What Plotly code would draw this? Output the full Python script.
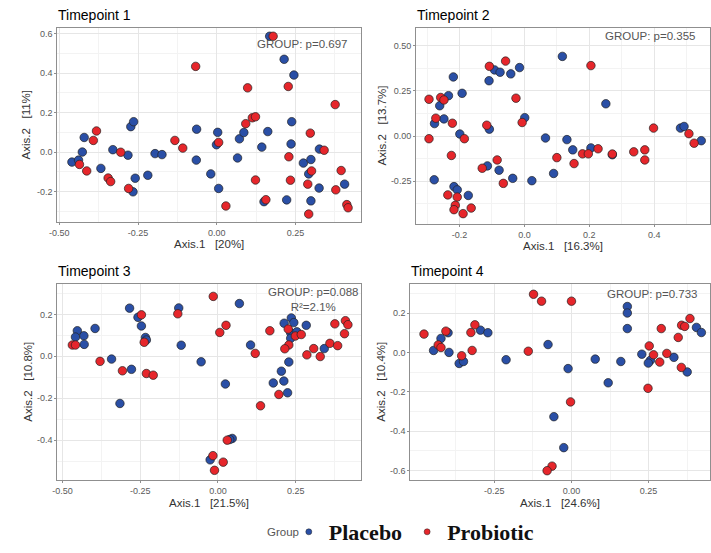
import plotly.graph_objects as go

# ---------------- data ----------------
groups = ["Placebo", "Probiotic"]

# Timepoint 1
t1_placebo_x = [-0.460, -0.439, -0.421, -0.427, -0.368, -0.330, -0.282, -0.273, -0.264, -0.266, -0.259, -0.219, -0.196, -0.174,
                -0.064, -0.065, -0.019, 0.003, -0.001, 0.006, 0.066, 0.072, 0.086, 0.150, 0.143, 0.162, 0.168, 0.214, 0.245,
                0.238, 0.236, 0.222, 0.275, 0.292, 0.299, 0.299, 0.326, 0.325, 0.406]
t1_placebo_y = [-0.051, -0.041, 0.074, 0.000, -0.083, 0.012, -0.016, 0.129, 0.154, -0.202, -0.133, -0.118, -0.008, -0.013,
                0.116, -0.041, -0.111, 0.100, 0.037, -0.185, -0.030, 0.067, 0.099, -0.252, 0.025, 0.104, 0.588, 0.471, 0.391,
                0.154, 0.041, -0.243, -0.056, -0.111, -0.038, -0.248, 0.015, -0.183, -0.163]
t1_probiotic_x = [-0.436, -0.413, -0.392, -0.382, -0.345, -0.337, -0.305, -0.280, -0.133, -0.108, -0.067, 0.006, 0.029, 0.092,
                  0.098, 0.113, 0.123, 0.123, 0.156, 0.179, 0.227, 0.229, 0.234, 0.297, 0.301, 0.289, 0.292, 0.341, 0.376,
                  0.378, 0.395, 0.413, 0.417]
t1_probiotic_y = [-0.063, -0.096, 0.059, 0.107, -0.132, -0.150, -0.001, -0.185, 0.059, 0.020, 0.435, 0.049, -0.274, 0.144,
                  0.326, 0.174, 0.179, -0.142, -0.242, 0.588, 0.333, -0.024, -0.143, 0.096, -0.096, -0.163, -0.315, 0.009,
                  0.241, -0.192, -0.094, -0.267, -0.283]

# Timepoint 2
t2_placebo_x = [-0.234, -0.261, -0.277, -0.248, -0.278, -0.219, -0.199, -0.192, -0.217, -0.207, -0.173, -0.092, -0.075, -0.042,
                -0.015, -0.109, -0.108, 0.001, -0.114, -0.078, -0.036, 0.023, 0.065, 0.117, 0.090, 0.131, 0.149, 0.205, 0.251,
                0.271, 0.481, 0.492, 0.545]
t2_placebo_y = [0.224, 0.168, 0.069, 0.095, -0.243, 0.328, 0.011, 0.237, -0.281, -0.299, -0.330, 0.367, 0.354, 0.345,
                0.380, 0.307, 0.038, 0.102, -0.166, -0.190, -0.235, -0.248, -0.011, 0.442, -0.208, -0.020, -0.077, -0.066, 0.179,
                -0.104, 0.044, 0.053, -0.026]
t2_probiotic_x = [-0.294, -0.258, -0.248, -0.273, -0.294, -0.222, -0.185, -0.225, -0.236, -0.207, -0.213, -0.217, -0.189,
                  -0.164, -0.108, -0.058, -0.026, -0.116, -0.007, -0.084, -0.130, -0.065, 0.100, 0.153, 0.179, 0.197, 0.227,
                  0.205, 0.271, 0.337, 0.371, 0.371, 0.398, 0.507, 0.523]
t2_probiotic_y = [0.204, 0.214, 0.200, 0.099, -0.015, 0.071, -0.015, -0.108, -0.327, -0.339, -0.385, -0.409, -0.431,
                  -0.400, 0.387, 0.416, 0.210, 0.060, 0.075, -0.133, -0.179, -0.263, -0.120, -0.153, -0.099, -0.099, -0.071,
                  0.391, -0.100, -0.088, -0.077, -0.133, 0.044, 0.013, -0.040]

# Timepoint 3
t3_placebo_x = [-0.452, -0.458, -0.431, -0.430, -0.395, -0.342, -0.278, -0.315, -0.284, -0.257, -0.246, -0.233, -0.230, -0.126,
                -0.118, 0.069, -0.054, 0.024, 0.105, 0.178, 0.204, 0.212, 0.224, 0.213, 0.236, 0.244, 0.234, 0.234, 0.228,
                0.254, 0.284, 0.342, 0.046, 0.038, -0.025]
t3_placebo_y = [0.122, 0.092, 0.098, 0.057, 0.133, -0.013, -0.062, -0.225, 0.230, 0.186, 0.145, 0.090, 0.078, 0.231,
                0.053, 0.252, -0.026, -0.132, 0.054, -0.127, -0.071, -0.118, -0.174, 0.158, 0.183, 0.161, 0.112, 0.086, -0.027,
                0.117, 0.148, 0.037, -0.392, -0.397, -0.494]
t3_probiotic_x = [-0.468, -0.458, -0.379, -0.307, -0.246, -0.237, -0.230, -0.208, -0.129, -0.015, 0.006, 0.026, 0.120, 0.167,
                  0.137, 0.196, 0.226, 0.228, 0.215, 0.249, 0.268, 0.286, 0.308, 0.329, 0.360, 0.385, 0.376, 0.407, 0.410,
                  0.418, 0.030, -0.016, 0.017, -0.011]
t3_probiotic_y = [0.054, 0.054, -0.024, -0.069, 0.198, 0.067, -0.082, -0.090, 0.203, 0.286, 0.114, 0.148, 0.014, 0.122,
                  -0.236, -0.182, 0.130, 0.054, 0.036, 0.097, 0.104, 0.007, 0.037, -0.001, 0.062, 0.051, 0.155, 0.108, 0.170,
                  0.151, -0.400, -0.474, -0.505, -0.544]

# Timepoint 4
t4_placebo_x = [-0.447, -0.423, -0.400, -0.397, -0.364, -0.350, -0.295, -0.271, -0.212, -0.076, -0.011, -0.057, -0.025, 0.077,
                0.119, 0.160, 0.181, 0.181, 0.181, 0.228, 0.256, 0.249, 0.332, 0.375, 0.405, 0.421]
t4_placebo_y = [0.010, 0.071, 0.100, 0.000, -0.056, -0.046, 0.113, 0.100, -0.037, 0.040, -0.082, -0.326, -0.483, -0.034,
                -0.154, -0.046, 0.233, 0.200, 0.121, -0.009, -0.040, -0.054, -0.025, -0.099, 0.127, 0.101]
t4_probiotic_x = [-0.478, -0.432, -0.423, -0.407, -0.356, -0.322, -0.326, -0.313, -0.140, -0.123, -0.097, 0.000, -0.003, -0.063,
                  -0.079, 0.252, 0.266, 0.248, 0.286, 0.291, 0.309, 0.346, 0.356, 0.357, 0.367, 0.384]
t4_probiotic_y = [0.093, 0.038, 0.025, 0.108, -0.017, 0.010, 0.101, 0.140, 0.006, 0.295, 0.260, 0.260, -0.251, -0.577,
                  -0.600, 0.033, -0.012, -0.182, -0.049, 0.121, -0.005, 0.076, -0.076, 0.138, 0.132, 0.172]

titles = ["Timepoint 1", "Timepoint 2", "Timepoint 3", "Timepoint 4"]
x_titles = ["Axis.1   [20%]", "Axis.1   [16.3%]", "Axis.1   [21.5%]", "Axis.1   [24.6%]"]
y_titles = ["Axis.2   [11%]", "Axis.2   [13.7%]", "Axis.2   [10.8%]", "Axis.2   [10.4%]"]
stats_text = ["GROUP: p=0.697", "GROUP: p=0.355", "GROUP: p=0.088<br>R²=2.1%", "GROUP: p=0.733"]
legend_title = "Group"

t1_xticks = [-0.5, -0.25, 0.0, 0.25]
t1_xticktext = ["-0.50", "-0.25", "0.00", "0.25"]
t1_yticks = [-0.2, 0.0, 0.2, 0.4, 0.6]
t1_yticktext = ["-0.2", "0.0", "0.2", "0.4", "0.6"]
t2_xticks = [-0.2, 0.0, 0.2, 0.4]
t2_xticktext = ["-0.2", "0.0", "0.2", "0.4"]
t2_yticks = [-0.25, 0.0, 0.25, 0.5]
t2_yticktext = ["-0.25", "0.00", "0.25", "0.50"]
t3_xticks = [-0.5, -0.25, 0.0, 0.25]
t3_xticktext = ["-0.50", "-0.25", "0.00", "0.25"]
t3_yticks = [-0.4, -0.2, 0.0, 0.2]
t3_yticktext = ["-0.4", "-0.2", "0.0", "0.2"]
t4_xticks = [-0.25, 0.0, 0.25]
t4_xticktext = ["-0.25", "0.00", "0.25"]
t4_yticks = [-0.6, -0.4, -0.2, 0.0, 0.2]
t4_yticktext = ["-0.6", "-0.4", "-0.2", "0.0", "0.2"]

# ---------------- style / layout ----------------
W, H = 711, 553
BLUE = "#2A4FA6"
RED = "#E6262B"
colors = {"Placebo": BLUE, "Probiotic": RED}

# panel boxes in pixels (left, right, top, bottom)
boxes = [(50, 357, 28, 225), (413, 710, 28, 227), (50, 357, 288, 487), (407, 710, 288, 487)]
xranges = [[-0.506, 0.458], [-0.333, 0.572], [-0.516, 0.460], [-0.522, 0.449]]
yranges = [[-0.354, 0.632], [-0.487, 0.602], [-0.590, 0.346], [-0.647, 0.348]]
stat_pos = [(297.5, 45), (649.5, 37), (308.5, 304), (651, 298)]
ytitle_off = [32, 35, 30, 30]

panel_data = [
    (t1_placebo_x, t1_placebo_y, t1_probiotic_x, t1_probiotic_y, t1_xticks, t1_xticktext, t1_yticks, t1_yticktext),
    (t2_placebo_x, t2_placebo_y, t2_probiotic_x, t2_probiotic_y, t2_xticks, t2_xticktext, t2_yticks, t2_yticktext),
    (t3_placebo_x, t3_placebo_y, t3_probiotic_x, t3_probiotic_y, t3_xticks, t3_xticktext, t3_yticks, t3_yticktext),
    (t4_placebo_x, t4_placebo_y, t4_probiotic_x, t4_probiotic_y, t4_xticks, t4_xticktext, t4_yticks, t4_yticktext),
]


def px_x(v):
    return v / W


def px_y(v):
    return 1 - v / H


def minor_vals(ticks):
    step = ticks[1] - ticks[0]
    return [ticks[0] - step / 2] + [t + step / 2 for t in ticks]


SANS = "Liberation Sans, Arial, sans-serif"
tickfont = dict(family=SANS, size=9, color="#5a5a5a")
BORDER = "#8f8f8f"

fig = go.Figure()
layout = dict(
    width=W, height=H,
    margin=dict(l=0, r=0, t=0, b=0),
    paper_bgcolor="white", plot_bgcolor="white",
    showlegend=True,
    annotations=[],
)

for i, (pbx, pby, prx, pry, xt, xtt, yt, ytt) in enumerate(panel_data):
    n = i + 1
    xa = "x" if n == 1 else f"x{n}"
    ya = "y" if n == 1 else f"y{n}"
    for name, xs, ys in (("Placebo", pbx, pby), ("Probiotic", prx, pry)):
        fig.add_trace(go.Scatter(
            x=xs, y=ys, mode="markers", name=name, showlegend=False,
            xaxis=xa, yaxis=ya, hoverinfo="skip",
            marker=dict(size=8.5, color=colors[name], line=dict(color="#222222", width=0.7)),
        ))
    l, r, t, b = boxes[i]
    axis_common = dict(
        showgrid=True, gridcolor="#e6e6e6", gridwidth=1,
        zeroline=False, showline=True, mirror=True, linecolor=BORDER, linewidth=1.3,
        ticks="outside", ticklen=2, tickwidth=1, tickcolor=BORDER,
        tickfont=tickfont, fixedrange=True,
    )
    layout[f"xaxis{'' if n == 1 else n}"] = dict(
        axis_common, domain=[px_x(l), px_x(r)], range=xranges[i], anchor=ya,
        tickmode="array", tickvals=xt, ticktext=xtt,
        minor=dict(tickmode="array", tickvals=minor_vals(xt), showgrid=True, gridcolor="#f3f3f3", gridwidth=0.7, ticks=""),
    )
    layout[f"yaxis{'' if n == 1 else n}"] = dict(
        axis_common, domain=[px_y(b), px_y(t)], range=yranges[i], anchor=xa,
        tickmode="array", tickvals=yt, ticktext=ytt,
        minor=dict(tickmode="array", tickvals=minor_vals(yt), showgrid=True, gridcolor="#f3f3f3", gridwidth=0.7, ticks=""),
    )
    # panel title
    layout["annotations"].append(dict(
        text=titles[i], xref="paper", yref="paper", x=px_x(l - 1), y=px_y(t - 13),
        xanchor="left", yanchor="middle", showarrow=False,
        font=dict(family=SANS, size=14, color="#000000"),
    ))
    # x axis title
    layout["annotations"].append(dict(
        text=x_titles[i].replace(" ", "\u00a0"), xref="paper", yref="paper", x=px_x((l + r) / 2), y=px_y(b + 23),
        xanchor="center", yanchor="middle", showarrow=False,
        font=dict(family=SANS, size=11.5, color="#333333"),
    ))
    # y axis title
    layout["annotations"].append(dict(
        text=y_titles[i].replace(" ", "\u00a0"), xref="paper", yref="paper", x=px_x(l - ytitle_off[i]),
        y=px_y((t + b) / 2),
        xanchor="center", yanchor="middle", showarrow=False, textangle=-90,
        font=dict(family=SANS, size=11.5, color="#333333"),
    ))
    # stats text
    sx, sy = stat_pos[i]
    layout["annotations"].append(dict(
        text=stats_text[i], xref="paper", yref="paper", x=px_x(sx), y=px_y(sy),
        xanchor="center", yanchor="middle", showarrow=False, align="center",
        font=dict(family=SANS, size=11.5, color="#555555"),
    ))

# legend title as text
layout["annotations"].append(dict(
    text=legend_title, xref="paper", yref="paper", x=px_x(296), y=px_y(540),
    xanchor="right", yanchor="middle", showarrow=False,
    font=dict(family=SANS, size=11.5, color="#555555"),
))

# legend entries
for name in groups:
    fig.add_trace(go.Scatter(
        x=[None], y=[None], mode="markers", name=name, showlegend=True,
        marker=dict(size=6, color=colors[name], line=dict(color="#222222", width=0.5)),
    ))

layout["legend"] = dict(
    orientation="h", x=px_x(284), y=px_y(540), xanchor="left", yanchor="middle",
    font=dict(family="Liberation Serif, Times New Roman, serif", size=22, color="#111111", weight="bold"),
    bgcolor="rgba(0,0,0,0)", itemwidth=30, tracegroupgap=0,
)

fig.update_layout(**layout)
post = ("document.documentElement.style.overflow='hidden';"
        "document.documentElement.style.margin='0';"
        "document.body.style.margin='0';document.body.style.padding='0';"
        "document.body.style.overflow='hidden';"
        "document.body.style.width='711px';document.body.style.height='553px';")
fig.write_html("out.html", config={"displayModeBar": False}, post_script=post)
